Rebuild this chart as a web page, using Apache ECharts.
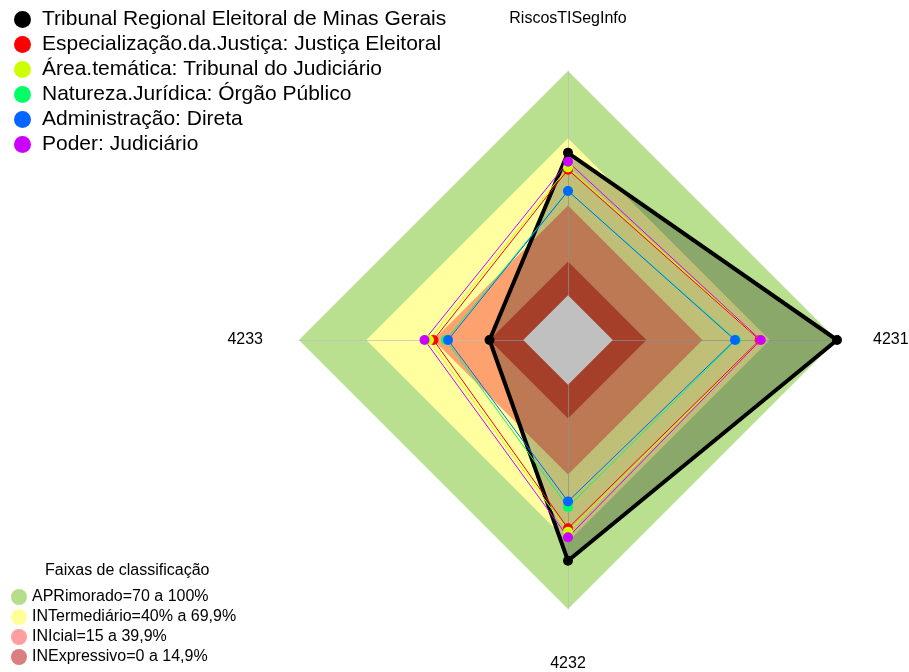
<!DOCTYPE html>
<html>
<head>
<meta charset="utf-8">
<script src="https://cdn.jsdelivr.net/npm/echarts@6/dist/echarts.min.js"></script>
<style>
  html, body { margin: 0; padding: 0; background: #fff; }
  #chart { width: 909px; height: 672px; }
</style>
</head>
<body>
<div id="chart"></div>
<script>
// eixos na ordem em que o radar do ECharts os coloca (topo, esquerda, baixo, direita)
const axisNames = ['RiscosTISegInfo', '4233', '4232', '4231'];

const seriesNames = [
  'Tribunal Regional Eleitoral de Minas Gerais',
  'Especialização.da.Justiça: Justiça Eleitoral',
  'Área.temática: Tribunal do Judiciário',
  'Natureza.Jurídica: Órgão Público',
  'Administração: Direta',
  'Poder: Judiciário'
];
const tribunal = [63.5, 15, 78.5, 100];
const especializacao = [56, 40, 64, 65.5];
const areaTematica = [57, 42, 65.5, 66];
const natureza = [46.5, 34.5, 54.5, 55];
const administracao = [46.5, 33.5, 52, 54.5];
const poder = [59.5, 44, 68, 66];
const seriesValues = [tribunal, especializacao, areaTematica, natureza, administracao, poder];

// faixas de classificação
const bandNames = [
  'APRimorado=70 a 100%',
  'INTermediário=40% a 69,9%',
  'INIcial=15 a 39,9%',
  'INExpressivo=0 a 14,9%'
];
const bandLimits = [100, 70, 40, 15];
const centerLimit = 0;

// cores
const seriesColors = ['#000000', '#ff0000', '#ccff00', '#00ff66', '#0066ff', '#cc00ff'];
const bandFill = ['#b8e08e', '#ffffa0', '#fda26f', '#dc5539'];
const bandLegend = ['#b5de8a', '#ffff99', '#ff9e9e', '#da7f7f'];

const FONT = 'Liberation Sans, Arial, sans-serif';

const chart = echarts.init(document.getElementById('chart'));

const bandSeries = bandNames.map((name, i) => ({
  type: 'radar',
  name: name,
  z: 1,
  silent: true,
  symbol: 'none',
  lineStyle: { width: 0, opacity: 0 },
  itemStyle: { color: bandLegend[i] },
  areaStyle: { color: bandFill[i], opacity: 1 },
  data: [{ name: name, value: axisNames.map(() => bandLimits[i]) }]
}));

const dataSeries = seriesNames.map((name, i) => ({
  type: 'radar',
  name: name,
  z: i === 0 ? 3 : 5,
  symbol: 'circle',
  symbolSize: 10,
  itemStyle: { color: seriesColors[i] },
  lineStyle: { color: seriesColors[i], width: i === 0 ? 4 : 1 },
  areaStyle: i === 0 ? { color: 'rgba(0,0,0,0.25)', opacity: 1 } : undefined,
  data: [{ name: name, value: seriesValues[i] }]
}));

const centerSeries = {
  type: 'radar',
  name: 'centro',
  z: 4,
  silent: true,
  symbol: 'none',
  lineStyle: { width: 0, opacity: 0 },
  areaStyle: { color: '#c0c0c0', opacity: 1 },
  data: [{ name: 'centro', value: axisNames.map(() => centerLimit) }]
};

const option = {
  backgroundColor: '#fff',
  animation: false,
  textStyle: { fontFamily: FONT },
  title: {
    text: 'Faixas de classificação',
    left: 45,
    top: 563,
    padding: 0,
    textStyle: { fontSize: 16, fontWeight: 'normal', color: '#000', fontFamily: FONT }
  },
  legend: [
    {
      orient: 'vertical',
      left: 14,
      top: 9,
      padding: 0,
      itemWidth: 17,
      itemHeight: 17,
      itemGap: 4,
      icon: 'circle',
      selectedMode: false,
      textStyle: { fontSize: 21, color: '#000', fontFamily: FONT, padding: [0, 0, 0, 6] },
      data: seriesNames.map((n, i) => ({ name: n, itemStyle: { color: seriesColors[i] } }))
    },
    {
      orient: 'vertical',
      left: 11,
      top: 589,
      height: 83,
      padding: 0,
      itemWidth: 16,
      itemHeight: 16,
      itemGap: 4,
      icon: 'circle',
      selectedMode: false,
      textStyle: { fontSize: 16, color: '#000', fontFamily: FONT },
      data: bandNames.map((n, i) => ({ name: n, itemStyle: { color: bandLegend[i] } }))
    }
  ],
  radar: {
    center: [568, 340],
    radius: 269,
    shape: 'polygon',
    startAngle: 90,
    z: 2,
    indicator: axisNames.map(n => ({ name: n, min: -20, max: 100 })),
    nameGap: 36,
    axisName: {
      color: '#000',
      fontSize: 16,
      fontFamily: FONT,
      formatter: function (name) {
        if (name === 'RiscosTISegInfo') return '{top|' + name + '}';
        if (name === '4232') return '{bot|' + name + '}';
        return name;
      },
      rich: {
        top: { fontSize: 16, color: '#000', fontFamily: FONT, padding: [0, 0, 8, 0] },
        bot: { fontSize: 16, color: '#000', fontFamily: FONT, padding: [11, 0, 0, 0] }
      }
    },
    splitNumber: 1,
    splitLine: { show: false },
    splitArea: { show: false },
    axisLine: { lineStyle: { color: 'rgba(190,190,190,0.7)', width: 1 } },
    axisTick: { show: false },
    axisLabel: { show: false }
  },
  series: [...bandSeries, ...dataSeries, centerSeries]
};

chart.setOption(option);
</script>
</body>
</html>
